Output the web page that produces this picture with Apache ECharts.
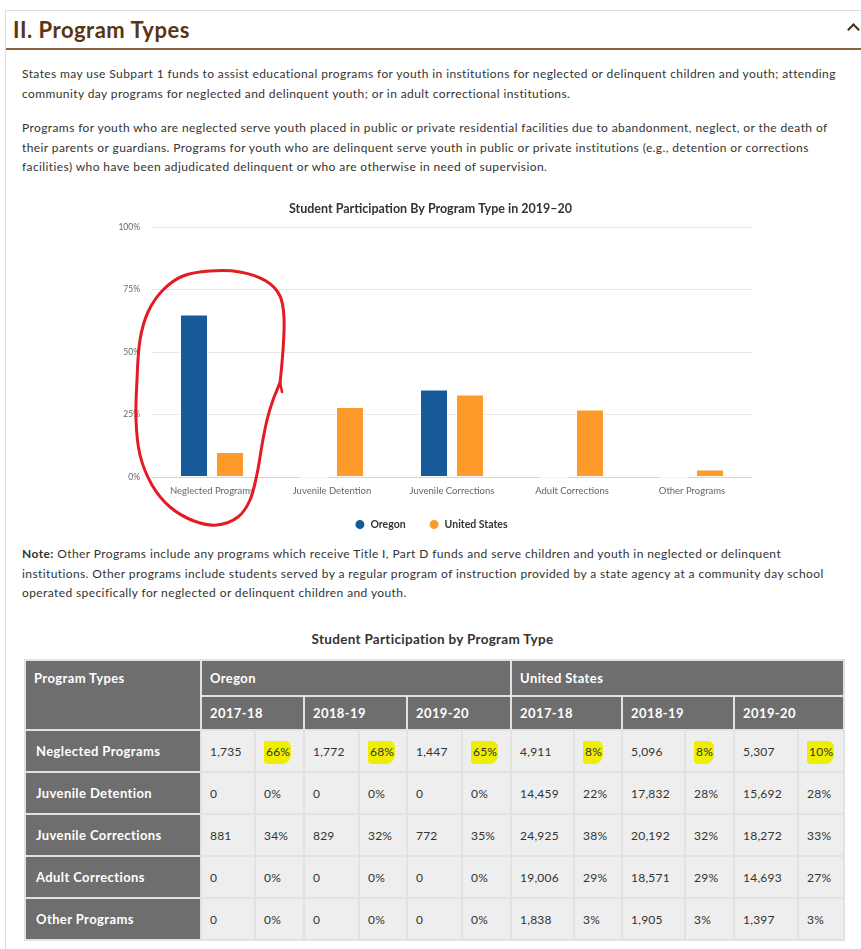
<!DOCTYPE html>
<html>
<head>
<meta charset="utf-8">
<script src="https://cdn.jsdelivr.net/npm/echarts@6/dist/echarts.min.js"></script>
<style>
  html, body { margin: 0; padding: 0; background: #fff; }
  body { width: 861px; height: 949px; position: relative; overflow: hidden; font-family: Lato, "Open Sans", sans-serif; color: #333; }
  .panel { position: absolute; left: 5px; top: 10px; width: 900px; height: 980px; border: 1px solid #dcdcdc; }
  .hd { position: absolute; left: 13px; top: 16px; font-size: 22px; font-weight: 700; color: #5b3512; letter-spacing: 0.5px; }
  .hdline { position: absolute; left: 6px; top: 48px; width: 860px; height: 2px; background: #8a6440; }
  .caret { position: absolute; left: 849px; top: 25px; width: 7px; height: 7px; border-top: 2px solid #3a2a1a; border-left: 2px solid #3a2a1a; transform: rotate(45deg); }
  .txt { position: absolute; left: 22px; font-size: 12px; line-height: 19.5px; letter-spacing: 0.4px; }
  .ttl { position: absolute; left: 0; width: 865px; text-align: center; font-size: 13.5px; font-weight: 700; letter-spacing: 0.3px; }
  #chart { position: absolute; left: 0; top: 190px; width: 861px; height: 345px; }
  table { position: absolute; left: 24px; top: 659px; border-collapse: collapse; table-layout: fixed; width: 819px; font-size: 12px; }
  td, th { border: 2px solid #e2e2e2; padding: 0 0 0 8px; text-align: left; white-space: nowrap; }
  td { letter-spacing: 0.2px; }
  th { background: #6e6e6e; color: #fff; font-weight: 700; font-size: 13px; letter-spacing: 0.4px; }
  thead tr.r1 th { height: 34px; vertical-align: middle; }
  thead tr.r2 th { height: 32px; }
  tbody td { background: #eeeeee; height: 40px; }
  tbody th { padding-left: 10px; }
  .hl { background: #eeee00; padding: 3px 1px 5px 2px; border-radius: 2px 6px 9px 4px; }
</style>
</head>
<body>
<div class="panel"></div>
<div class="hd">II. Program Types</div>
<div class="caret"></div>
<div class="hdline"></div>

<div class="txt" style="top:64px">States may use Subpart 1 funds to assist educational programs for youth in institutions for neglected or delinquent children and youth; attending<br>community day programs for neglected and delinquent youth; or in adult correctional institutions.</div>
<div class="txt" style="top:118px">Programs for youth who are neglected serve youth placed in public or private residential facilities due to abandonment, neglect, or the death of<br>their parents or guardians. Programs for youth who are delinquent serve youth in public or private institutions (e.g., detention or corrections<br>facilities) who have been adjudicated delinquent or who are otherwise in need of supervision.</div>

<div id="chart"></div>

<div class="txt" style="top:544px"><b>Note:</b> Other Programs include any programs which receive Title I, Part D funds and serve children and youth in neglected or delinquent<br>institutions. Other programs include students served by a regular program of instruction provided by a state agency at a community day school<br>operated specifically for neglected or delinquent children and youth.</div>

<div class="ttl" style="top:631px">Student Participation by Program Type</div>

<table id="tbl"></table>

<script>
// chart data (2019-20 shares, percent)
const categories = ['Neglected Programs', 'Juvenile Detention', 'Juvenile Corrections', 'Adult Corrections', 'Other Programs']
const oregonPct2020 = [65, 0, 35, 0, 0]
const usPct2020 = [10, 28, 33, 27, 3]
const yTicks = [0, 25, 50, 75, 100]

// table data
const years = ['2017-18', '2018-19', '2019-20']
const oregonCounts = [
  [1735, 1772, 1447],
  [0, 0, 0],
  [881, 829, 772],
  [0, 0, 0],
  [0, 0, 0]
]
const oregonPct = [
  [66, 68, 65],
  [0, 0, 0],
  [34, 32, 35],
  [0, 0, 0],
  [0, 0, 0]
]
const usCounts = [
  [4911, 5096, 5307],
  [14459, 17832, 15692],
  [24925, 20192, 18272],
  [19006, 18571, 14693],
  [1838, 1905, 1397]
]
const usPct = [
  [8, 8, 10],
  [22, 28, 28],
  [38, 32, 33],
  [29, 29, 27],
  [3, 3, 3]
]
const highlightRow = 0

// build table
const colWidths = [176, 54, 49, 55, 48, 55, 49, 63, 48, 63, 49, 64, 46]
let html = '<colgroup>' + colWidths.map(w => '<col style="width:' + w + 'px">').join('') + '</colgroup>'
html += '<thead><tr class="r1"><th rowspan="2" style="vertical-align:top;padding-top:9px">Program Types</th>'
html += '<th colspan="6">Oregon</th><th colspan="6">United States</th></tr><tr class="r2">'
html += years.map(y => '<th colspan="2">' + y + '</th>').join('') + years.map(y => '<th colspan="2">' + y + '</th>').join('')
html += '</tr></thead><tbody>'
const fmt = n => n.toLocaleString('en-US')
categories.forEach((c, i) => {
  const pct = v => i === highlightRow ? '<span class="hl">' + v + '%</span>' : v + '%'
  html += '<tr><th>' + c + '</th>'
  years.forEach((y, j) => { html += '<td>' + fmt(oregonCounts[i][j]) + '</td><td>' + pct(oregonPct[i][j]) + '</td>' })
  years.forEach((y, j) => { html += '<td>' + fmt(usCounts[i][j]) + '</td><td>' + pct(usPct[i][j]) + '</td>' })
  html += '</tr>'
})
html += '</tbody>'
document.getElementById('tbl').innerHTML = html

// chart
const chart = echarts.init(document.getElementById('chart'))
const ringPts = [
  [280, 383], [283, 350], [284, 318], [280, 296], [266, 281], [240, 272], [210, 271], [183, 276],
  [163, 290], [148, 312], [140, 340], [137, 380], [136, 420], [140, 455], [152, 485], [170, 507],
  [194, 521], [217, 525], [238, 517], [250, 500], [257, 474], [262, 445], [267, 420], [273, 400], [280, 383]
].map(p => [p[0], p[1] - 190])
const hookPts = [[276, 393], [280, 382], [282, 392]].map(p => [p[0], p[1] - 190])

const option = {
  animation: false,
  textStyle: { fontFamily: 'Lato, sans-serif' },
  title: {
    text: 'Student Participation By Program Type in 2019\u201320',
    left: 'center',
    top: 7,
    textStyle: { fontSize: 12.5, fontWeight: 'bold', color: '#333', letterSpacing: 0.4 }
  },
  grid: { left: 152, right: 109, top: 37, bottom: 58 },
  legend: {
    data: ['Oregon', 'United States'],
    left: 'center',
    top: 323,
    icon: 'circle',
    itemWidth: 11,
    itemHeight: 11,
    itemGap: 22,
    textStyle: { fontSize: 10.5, fontWeight: 'bold', color: '#333' }
  },
  xAxis: {
    type: 'category',
    data: categories,
    axisTick: { show: false },
    axisLine: { lineStyle: { color: '#ccd6eb' } },
    axisLabel: { color: '#666', fontSize: 9.5, margin: 9, interval: 0 }
  },
  yAxis: {
    type: 'value',
    min: yTicks[0],
    max: yTicks[yTicks.length - 1],
    interval: 25,
    axisLabel: { color: '#666', fontSize: 8.5, margin: 12, formatter: '{value}%' },
    splitLine: { lineStyle: { color: '#e6e6e6' } }
  },
  series: [
    {
      name: 'Oregon',
      type: 'bar',
      data: oregonPct2020,
      barWidth: 28,
      barGap: '28.6%',
      itemStyle: { color: '#165a97', borderColor: '#fff', borderWidth: 1 }
    },
    {
      name: 'United States',
      type: 'bar',
      data: usPct2020,
      barWidth: 28,
      itemStyle: { color: '#fd9a2a', borderColor: '#fff', borderWidth: 1 }
    }
  ],
  graphic: [
    {
      type: 'polyline',
      z: 100,
      shape: { points: ringPts, smooth: 0.35 },
      style: { stroke: '#e31b23', lineWidth: 3, fill: null, lineCap: 'round', lineJoin: 'round' }
    },
    {
      type: 'polyline',
      z: 100,
      shape: { points: hookPts },
      style: { stroke: '#e31b23', lineWidth: 2.5, fill: null, lineCap: 'round' }
    }
  ]
}
chart.setOption(option)
</script>
</body>
</html>
